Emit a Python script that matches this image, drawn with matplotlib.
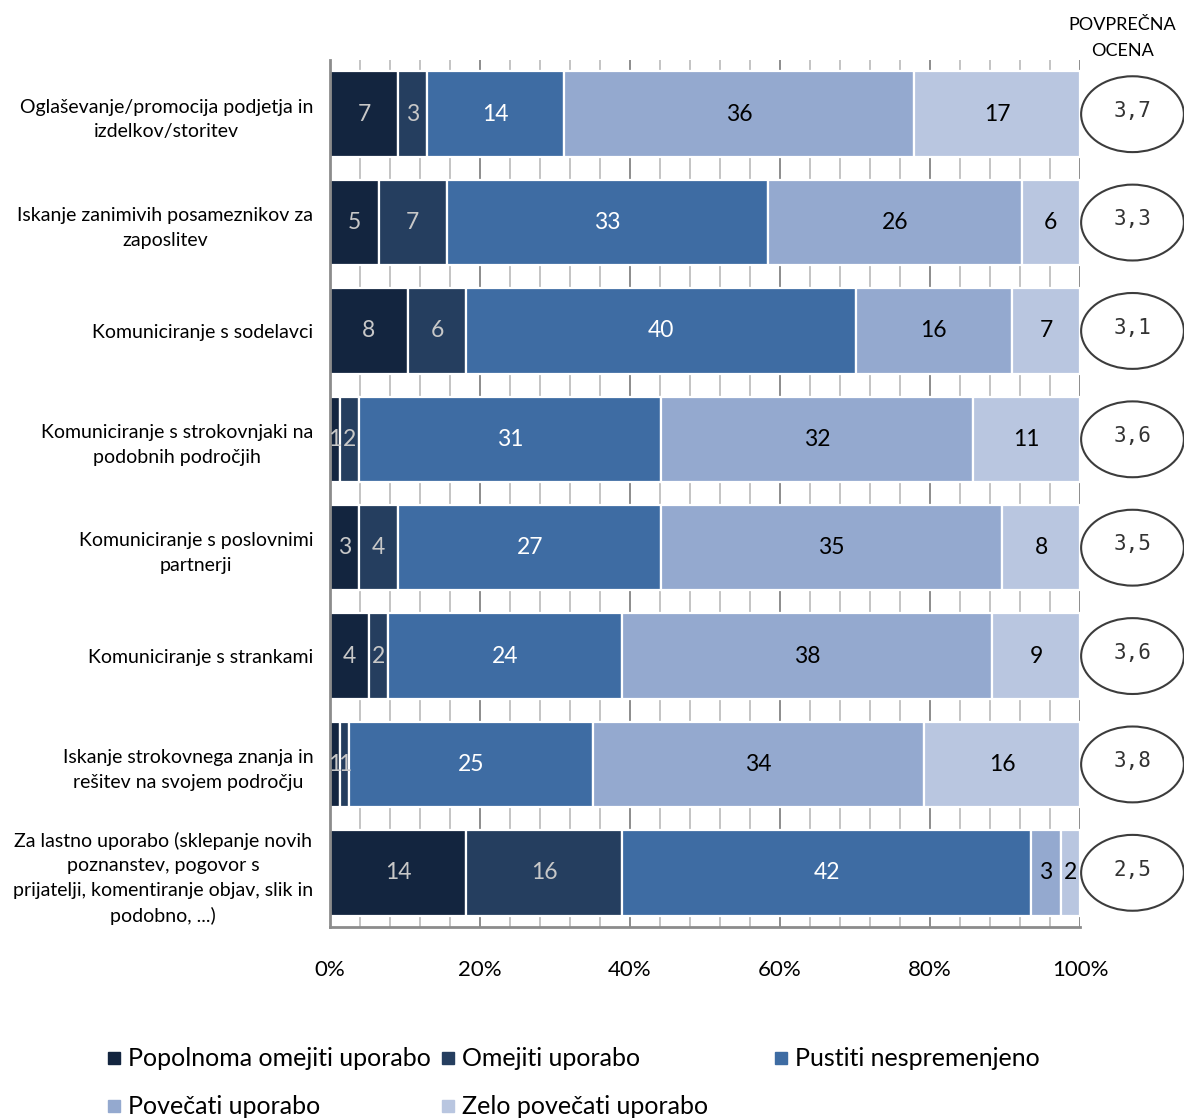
import numpy as np
import matplotlib.pyplot as plt
from matplotlib.patches import Ellipse, Rectangle
import matplotlib.transforms as mtransforms

plt.rcParams['font.family'] = ['Lato', 'DejaVu Sans']

# podatki
kategorije = [
    "Oglaševanje/promocija podjetja in\nizdelkov/storitev",
    "Iskanje zanimivih posameznikov za\nzaposlitev",
    "Komuniciranje s sodelavci",
    "Komuniciranje s strokovnjaki na\npodobnih področjih",
    "Komuniciranje s poslovnimi\npartnerji",
    "Komuniciranje s strankami",
    "Iskanje strokovnega znanja in\nrešitev na svojem področju",
    "Za lastno uporabo (sklepanje novih\npoznanstev, pogovor s\nprijatelji, komentiranje objav, slik in\npodobno, ...)",
]
serije = ["Popolnoma omejiti uporabo", "Omejiti uporabo", "Pustiti nespremenjeno",
          "Povečati uporabo", "Zelo povečati uporabo"]
popolnoma = [7, 5, 8, 1, 3, 4, 1, 14]
omejiti = [3, 7, 6, 2, 4, 2, 1, 16]
nespremenjeno = [14, 33, 40, 31, 27, 24, 25, 42]
povecati = [36, 26, 16, 32, 35, 38, 34, 3]
zelo = [17, 6, 7, 11, 8, 9, 16, 2]
ocene = ["3,7", "3,3", "3,1", "3,6", "3,5", "3,6", "3,8", "2,5"]

barve = ["#13253F", "#253E5F", "#3E6CA3", "#94A9CF", "#B9C6E0"]
barve_besedila = ["#C8C8C8", "#C8C8C8", "white", "black", "black"]

vrednosti = np.array([popolnoma, omejiti, nespremenjeno, povecati, zelo], dtype=float)
delezi = vrednosti / vrednosti.sum(axis=0) * 100

fig = plt.figure(figsize=(11.84, 11.19), dpi=100)
ax = fig.add_axes([330 / 1184, 1 - 927 / 1119, 750 / 1184, 867 / 1119])

y = np.arange(len(kategorije))

# mreza
for x in np.arange(4, 101, 4):
    glavna = x % 20 == 0
    ax.axvline(x, color="#8C8C8C" if glavna else "#C4C4C4", lw=1.4, zorder=0)

levo = np.zeros(len(kategorije))
for i in range(5):
    ax.barh(y, delezi[i], left=levo, height=0.79, color=barve[i],
            edgecolor="white", linewidth=1.6, zorder=2, label=serije[i])
    for j in range(len(kategorije)):
        ax.text(levo[j] + delezi[i, j] / 2, y[j], f"{int(vrednosti[i, j])}",
                ha="center", va="center", fontsize=16.5, color=barve_besedila[i], zorder=3)
    levo += delezi[i]

ax.set_xlim(0, 100)
ax.set_ylim(len(kategorije) - 0.5, -0.5)
ax.set_xticks(np.arange(0, 101, 20))
ax.set_xticklabels([f"{v}%" for v in range(0, 101, 20)], fontsize=16)
ax.tick_params(axis="x", length=0, pad=24)
ax.set_yticks(y)
ax.set_yticklabels(kategorije, fontsize=14, multialignment="center", linespacing=1.55)
ax.tick_params(axis="y", length=0, pad=12)
for s in ["top", "right"]:
    ax.spines[s].set_visible(False)
for s in ["left", "bottom"]:
    ax.spines[s].set_color("#8C8C8C")
    ax.spines[s].set_linewidth(2)

# povprecna ocena
trans = mtransforms.blended_transform_factory(ax.transAxes, ax.transData)
for j, o in enumerate(ocene):
    e = Ellipse((1.07, y[j]), 0.137, 0.70, transform=trans, fill=False,
                edgecolor="#3C3C3C", lw=1.5, clip_on=False)
    ax.add_patch(e)
    ax.text(1.07, y[j] - 0.03, o, transform=trans, ha="center", va="center",
            fontsize=15, family="DejaVu Sans Mono", color="#333333")
fig.text(1122 / 1184, 1 - 38 / 1119, "POVPREČNA\nOCENA", ha="center", va="center",
         fontsize=13, linespacing=1.75)

# legenda
leg_pos = [(108, 1058), (442, 1058), (775, 1058), (108, 1106), (442, 1106)]
for i, (px, py) in enumerate(leg_pos):
    fig.patches.append(Rectangle((px / 1184, 1 - (py + 6) / 1119), 12 / 1184, 12 / 1119,
                                 transform=fig.transFigure, color=barve[i]))
    fig.text((px + 20) / 1184, 1 - py / 1119, serije[i], ha="left", va="center", fontsize=18)

fig.savefig("out.png", dpi=100)
